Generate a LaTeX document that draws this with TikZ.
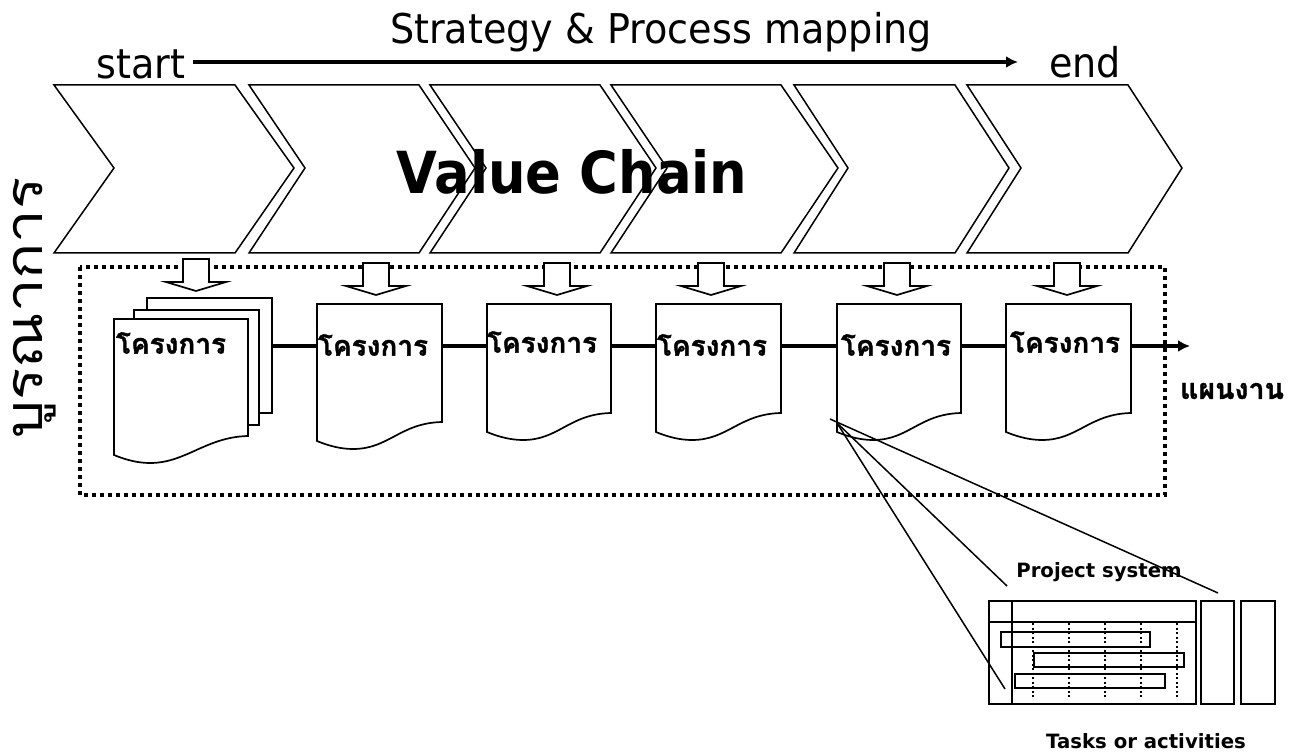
\documentclass[tikz,border=0pt]{standalone}
\usepackage{fontspec}
\usetikzlibrary{arrows.meta}
\setmainfont{DejaVu Sans}
\newfontfamily\thaifont[Script=Thai,BoldFeatures={FakeBold=1.2}]{Loma}
\newcommand{\prj}{\thaifont\bfseries\fontsize{28}{28}\selectfont โครงการ}
\tikzset{
  chev/.style={draw=black,line width=1.5pt,fill=white,line join=miter},
  docshape/.style={draw=black,line width=1.7pt,fill=white},
  blockarrow/.style={draw=black,line width=1.7pt,fill=white},
  lbl/.style={inner sep=0pt,outer sep=0pt},
  head/.style={lbl,font=\fontsize{41}{44}\selectfont,xscale=.93,transform shape},
  anchorbox/.style={inner sep=0pt,outer sep=0pt,minimum width=#1,minimum height=10pt},
  bold/.style={font=\bfseries\fontsize{19.7}{22}\selectfont,inner sep=0pt},
  chain/.style={line width=3.6pt},
  zoomline/.style={line width=1.5pt},
  gbox/.style={draw=black,line width=1.6pt},
  gdot/.style={line width=1.3pt,dash pattern=on 2pt off 2.5pt},
}
\newcommand{\chevron}[4]{% left, right, notch, tip
  \draw[chev] (#1,85) -- (#2,85) -- (#4,168) -- (#2,253) -- (#1,253) -- (#3,168) -- cycle;}
\newcommand{\wdoc}[4]{% x0, y0 top, x1, y bottom right
  \draw[docshape] (#1,#2) -- (#3,#2) -- (#3,#4)
    .. controls (#3-42,#4+1) and (#1+72,#4+27) .. (#1+36,#4+27)
    .. controls (#1+24,#4+27) and (#1+12,#4+24) .. (#1,#4+19) -- cycle;}
\newcommand{\barrow}[2]{% centre x, top y
  \draw[blockarrow] (#1-13,#2) -- (#1+13,#2) -- (#1+13,#2+23) -- (#1+30,#2+23) -- (#1,#2+32) -- (#1-30,#2+23) -- (#1-13,#2+23) -- cycle;}
\begin{document}
\begin{tikzpicture}[x=1pt,y=-1pt]
\useasboundingbox (0,0) rectangle (1299,754);
\node[head] (title) at (661,32) {Strategy \& Process mapping};
\node[head] (start) at (141,64) {start};
\node[head] (end) at (1085,62) {end};
\coordinate (arrS) at (193,62);
\coordinate (arrE) at (1018,62);
\draw[line width=3.4pt,-{Latex[length=12pt,width=12pt]}] (arrS) -- (arrE);
\chevron{54}{235}{114}{294}
\chevron{249}{419}{305}{475}
\chevron{430}{600}{486}{656}
\chevron{611}{781}{667}{838}
\chevron{794}{955}{848}{1009}
\chevron{967}{1128}{1021}{1182}
\node[lbl,font=\bfseries\fontsize{58}{60}\selectfont,xscale=.91,transform shape] (vc) at (572,172) {Value Chain};
\node[lbl,rotate=90,xscale=1.15,transform shape,font=\thaifont\fontsize{52}{54}\selectfont] (int) at (35,308) {บูรณาการ};
\draw[line width=4pt,dash pattern=on 4pt off 4pt] (80,267) rectangle (1165,495);
\barrow{196}{259}
\barrow{376}{263}
\barrow{557}{263}
\barrow{711}{263}
\barrow{897}{263}
\barrow{1067}{263}
\draw[docshape] (147,298) rectangle (272,413);
\draw[docshape] (134,310) rectangle (259,425);
\wdoc{114}{319}{248}{436}
\wdoc{317}{304}{442}{422}
\wdoc{487}{304}{611}{413}
\wdoc{656}{304}{781}{413}
\wdoc{837}{304}{961}{413}
\wdoc{1006}{304}{1131}{413}
\node[anchorbox=125pt] (d1) at (210,346) {};
\node[anchorbox=125pt] (d2) at (380,346) {};
\node[anchorbox=124pt] (d3) at (549,346) {};
\node[anchorbox=125pt] (d4) at (719,346) {};
\node[anchorbox=124pt] (d5) at (899,346) {};
\node[anchorbox=125pt] (d6) at (1069,346) {};
\coordinate (chainend) at (1190,346);
\draw[chain] (d1.east) -- (d2.west);
\draw[chain] (d2.east) -- (d3.west);
\draw[chain] (d3.east) -- (d4.west);
\draw[chain] (d4.east) -- (d5.west);
\draw[chain] (d5.east) -- (d6.west);
\draw[chain,-{Latex[length=12pt,width=12pt]}] (d6.east) -- (chainend);
\node[lbl] (p1) at (171,343) {\prj};
\node[lbl] (p2) at (373,345) {\prj};
\node[lbl] (p3) at (542,342) {\prj};
\node[lbl] (p4) at (712,345) {\prj};
\node[lbl] (p5) at (896,345) {\prj};
\node[lbl] (p6) at (1065,342) {\prj};
\node[lbl,font=\thaifont\bfseries\fontsize{28.5}{29}\selectfont] (plan) at (1232,391) {แผนงาน};
\node[bold] (ps) at (1099,572) {Project system};
\node[bold] (ta) at (1146,741) {Tasks or activities};
\draw[gbox] (989,601) rectangle (1196,704);
\draw[gbox] (1201,601) rectangle (1234,704);
\draw[gbox] (1241,601) rectangle (1275,704);
\draw[gbox] (989,622) -- (1196,622);
\draw[gbox] (1012,601) -- (1012,704);
\foreach \x in {1033,1069,1105,1141,1177} \draw[gdot] (\x,623) -- (\x,697);
\draw[gbox] (1001,632) rectangle (1150,647);
\draw[gbox] (1034,653) rectangle (1184,667);
\draw[gbox] (1015,674) rectangle (1165,688);
\coordinate (z0) at (837,423);
\coordinate (z1) at (1005,689);
\coordinate (z2) at (1007,586);
\coordinate (z3) at (1218,593);
\coordinate (z4) at (830,419);
\draw[zoomline] (z0) -- (z1);
\draw[zoomline] (z0) -- (z2);
\draw[zoomline] (z4) -- (z3);
\end{tikzpicture}
\end{document}
